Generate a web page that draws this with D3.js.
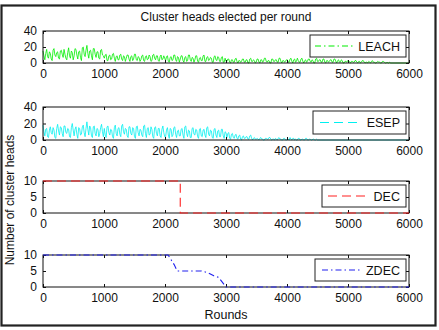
<!DOCTYPE html>
<html><head><meta charset="utf-8">
<script src="https://cdn.jsdelivr.net/npm/d3@7"></script>
<style>body{margin:0;background:#fff}svg{display:block}text{font-family:"Liberation Sans",Arial,sans-serif;fill:#111}</style>
</head><body><svg id="c" width="439" height="330"></svg>
<script>
// ---------- data ----------
const titleText = "Cluster heads elected per round";
const xLabelText = "Rounds";
const yLabelText = "Number of cluster heads";
const xTicks = [0, 1000, 2000, 3000, 4000, 5000, 6000];
const yTicksBig = [0, 20, 40];
const yTicksSmall = [0, 5, 10];
const roundStep = 15; // sampling of the noisy series (rounds)
const leachValues = [
 15,9,4,12,17,8,6,14,12,5, 3,16,18,10,8,13,14,6,5,15, 16,11,7,17,11,6,4,13,19,9, 6,15,13,4,9,18,17,10,5,14,
 15,7,3,19,20,11,8,16,22,12, 6,15,16,9,4,18,18,11,7,14, 14,6,5,16,17,10,9,
 6,10,11,3,3,9,10,4,5,11, 12,6,2,8,9,4,4,10,11,5, 3,9,8,2,6,10,10,5,2,8, 9,3,5,11,11,4,3,8,7,2,
 4,9,10,3,2,8,9,4,5,10, 8,2,3,10,11,6,4,9,9,3, 2,8,10,4,5,9,6,
 3,8,9,2,1,7,8,3,4,10, 10,4,2,8,7,1,5,9,9,3, 1,7,8,2,3,10,10,4,2,7, 6,1,4,9,9,2,1,6,7,3,
 3,9,10,2,2,7,8,3,4,7, 6,1,1,8,9,4,3,8,7,2, 2,7,8,1,1,6,2,
 2,5,5,1,0,4,4,1,1,5, 6,2,0,3,3,1,2,5,5,1, 1,4,4,0,0,5,6,2,2,4, 3,0,1,5,5,1,0,4,4,1,
 2,6,6,2,1,3,3,0,0,5, 5,2,2,4,4,1,1,6,6,2, 0,3,3,1,2,4,
 4,1,1,5,6,2,0,4,5,1, 2,6,3,1,1,5,6,2,0,3, 4,1,2,5,5,2,1,4,3,0, 0,5,6,2,2,4,4,1,1,5,
 5,1,0,3,3,1,2,4,4,1, 1,5,5,2,0,3,4,1,1,4, 3,0,0,2,2,1,3,
 3,1,0,2,2,1,1,3,3,1, 0,2,2,0,1,3,3,1,0,1, 1,0,2,1,0,2,3,1,1,0, 0,1,2,1,1,0,0,2,2,1, 0,0,1,0,0,1,0,
 0,0,0,0,0,0,0,0,0,0, 0,0,0,0,0,0,0,0,0,0];
const esepValues = [
 18,10,5,13,14,4,3,12,16,9, 7,15,12,3,2,14,19,11,6,16, 15,8,4,17,17,9,8,14,13,4, 3,15,20,12,5,13,16,7,2,15,
 14,6,7,16,18,9,4,14,22,13, 6,17,15,5,3,16,17,8,5,14, 13,4,8,15,19,10,4,
 14,6,3,16,17,9,6,13,12,4, 2,15,18,8,5,14,15,7,4,17, 19,10,7,14,13,5,3,16,16,8, 6,15,14,4,2,16,17,9,5,13,
 12,6,4,17,18,8,3,14,15,6, 7,16,13,4,2,15,16,8,5,14, 14,5,3,13,17,9,4,
 4,12,15,6,2,14,13,4,6,15, 16,7,3,11,12,5,5,13,14,6, 2,16,17,8,4,12,11,3,3,14, 15,7,6,13,12,4,2,13,14,5,
 4,12,13,6,3,15,16,7,5,12, 11,3,2,13,14,6,3,11,12,4, 4,13,13,5,2,10,9,
 3,8,9,2,1,7,8,3,2,6, 7,2,1,5,6,1,0,4,5,2, 2,4,4,1,1,5,6,2,0,2, 3,1,1,
 2,1,0,2,3,1,1,0,0,2, 2,1,1,3,3,1,0,1,1,0, 2,1,0,2,3,1,1,0,0,2, 2,0,0,1,1,0,3,1,0,2,
 2,0,1,0,0,2,2,0,0,1, 1,0,0,2,2,0,0,1,1,0, 0,1,1,0,0,1,0,
 0,0,0,0,0,0,0,0,0,0, 0,0,0,0,0,0,0,0,0,0, 0,0,0,0,0,0,0,0,0,0, 0,0,0,0,0,0,0,0,0,0, 0,0,0,0,0,0,0,0,0,0,
 0,0,0,0,0,0,0,0,0,0, 0,0,0,0,0,0,0,0,0,0, 0,0,0,0,0,0,0,0,0,0, 0,0,0,0,0,0,0,0,0,0, 0,0,0,0,0,0,0,0,0,0];
const decRounds = [0, 2250, 2250, 6000];
const decValues = [10, 10, 0, 0];
const zdecRounds = [0, 2050, 2100, 2150, 2200, 2600, 2700, 2800, 2880, 3000, 6000];
const zdecValues = [10, 10, 8.5, 7, 5, 5, 4.5, 3.5, 3, 0, 0];
const seriesNames = ["LEACH", "ESEP", "DEC", "ZDEC"];
const seriesColors = ["#00ee00", "#00f0f0", "#ff2020", "#2020ee"];

// ---------- layout ----------
const svg = d3.select("#c");
const L = 43, R = 409;
const tops = [31, 107, 181, 255], bots = [63, 140, 213, 287];
const dashes = ["6,3,1.5,3", "9,5", "9,5", "6,3,1.5,3"];

svg.append("rect").attr("x",1.5).attr("y",5.5).attr("width",434).attr("height",320)
  .attr("fill","#fff").attr("stroke","#222").attr("stroke-width",2.2);

const x = d3.scaleLinear().domain([0, 6000]).range([L, R]);

const panels = [
  {rounds: leachValues.map((_, i) => i * roundStep), values: leachValues, yMax: 40, ticks: yTicksBig, legX: 310, legLine: [315, 353]},
  {rounds: esepValues.map((_, i) => i * roundStep), values: esepValues, yMax: 40, ticks: yTicksBig, legX: 313, legLine: [320, 358]},
  {rounds: decRounds, values: decValues, yMax: 10, ticks: yTicksSmall, legX: 322, legLine: [328, 367]},
  {rounds: zdecRounds, values: zdecValues, yMax: 10, ticks: yTicksSmall, legX: 315, legLine: [322, 362]}
];

panels.forEach((p, k) => {
  const y = d3.scaleLinear().domain([0, p.yMax]).range([bots[k], tops[k]]);
  const g = svg.append("g");
  const pts = p.rounds.map((r, i) => [r, p.values[i]]);
  const noisy = k < 2;
  if (noisy) {
    g.append("path").datum(pts)
      .attr("d", d3.line().x(d => x(d[0])).y(d => y(d[1])))
      .attr("fill", "none").attr("stroke", seriesColors[k]).attr("stroke-width", 0.8);
  }
  g.append("rect").attr("x", L).attr("y", tops[k]).attr("width", R - L).attr("height", bots[k] - tops[k])
    .attr("fill", "none").attr("stroke", "#111").attr("stroke-width", 1);
  const ax = (gen, tx, ty, lab) => {
    const a = g.append("g").attr("transform", `translate(${tx},${ty})`).call(gen);
    a.select(".domain").remove();
    a.selectAll("line").attr("stroke", "#111");
    a.selectAll("text").attr("font-size", 12).attr("fill", "#111").style("display", lab ? null : "none");
    return a;
  };
  ax(d3.axisBottom(x).tickValues(xTicks).tickSizeInner(-3).tickSizeOuter(0).tickPadding(6).tickFormat(d3.format("d")), 0, bots[k], true);
  ax(d3.axisTop(x).tickValues(xTicks).tickSizeInner(-3).tickSizeOuter(0), 0, tops[k], false);
  ax(d3.axisLeft(y).tickValues(p.ticks).tickSizeInner(-3).tickSizeOuter(0).tickPadding(6), L, 0, true);
  ax(d3.axisRight(y).tickValues(p.ticks).tickSizeInner(-3).tickSizeOuter(0), R, 0, false);
  if (!noisy) {
    g.append("path").datum(pts)
      .attr("d", d3.line().x(d => x(d[0])).y(d => y(d[1])))
      .attr("fill", "none").attr("stroke", seriesColors[k]).attr("stroke-width", 1.1)
      .attr("stroke-dasharray", dashes[k]);
  }
  const lt = tops[k] + 4, lb = bots[k] - 6;
  g.append("rect").attr("x", p.legX).attr("y", lt).attr("width", 406 - p.legX).attr("height", lb - lt)
    .attr("fill", "#fff").attr("stroke", "#222").attr("stroke-width", 1);
  const ly = (lt + lb) / 2;
  g.append("line").attr("x1", p.legLine[0]).attr("x2", p.legLine[1]).attr("y1", ly).attr("y2", ly)
    .attr("stroke", seriesColors[k]).attr("stroke-width", 1.1).attr("stroke-dasharray", dashes[k]);
  g.append("text").attr("x", 400).attr("y", ly).attr("dy", "0.36em").attr("text-anchor", "end")
    .attr("font-size", 12.5).text(seriesNames[k]);
});

svg.append("text").attr("x", 226).attr("y", 21).attr("text-anchor", "middle").attr("font-size", 12).text(titleText);
svg.append("text").attr("x", 226).attr("y", 319).attr("text-anchor", "middle").attr("font-size", 12.5).text(xLabelText);
svg.append("text").attr("transform", "translate(14,200) rotate(-90)").attr("text-anchor", "middle").attr("font-size", 12).text(yLabelText);
</script></body></html>
